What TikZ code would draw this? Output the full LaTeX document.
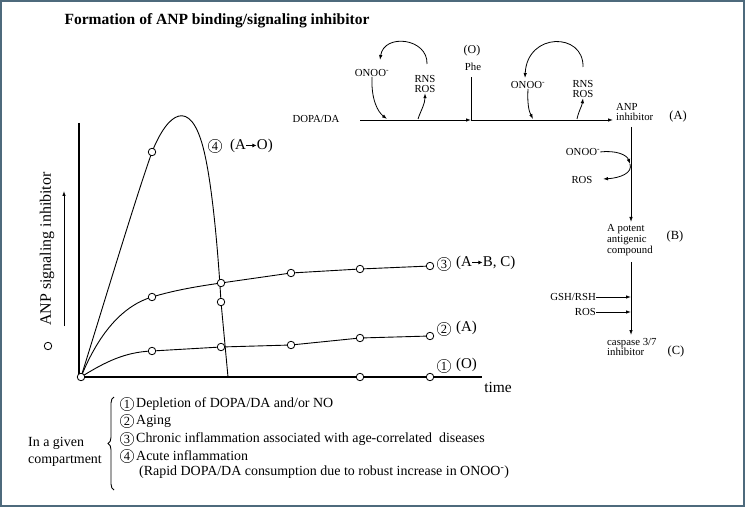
\documentclass[tikz,border=0pt]{standalone}
\usepackage{fontspec}
\setmainfont{Liberation Serif}
\usepackage{xcolor}
\usetikzlibrary{arrows.meta,decorations.pathreplacing}
\definecolor{vframe}{HTML}{4e6a7c}
\definecolor{vdarkgray}{HTML}{1a1a1a}

\newcommand{\smallarr}{\tikz[baseline=-0.6ex]\draw[line width=1bp,-{Latex[length=4bp,width=4bp]}] (0,0) -- (10bp,0);}

\begin{document}
\begin{tikzpicture}[x=1bp,y=-1bp,
		lbl/.style={inner sep=0pt, font=\fontsize{15}{17}\selectfont},
		sidelbl/.style={inner sep=0pt, font=\fontsize{12.5}{14}\selectfont},
		chem/.style={inner sep=0pt, align=center, font=\fontsize{10.8}{10.9}\selectfont},
		legtxt/.style={inner sep=0pt, anchor=west, font=\fontsize{14}{17.5}\selectfont},
		numc/.style={draw, circle, inner sep=0pt, minimum size=13.5bp, font=\fontsize{12.5}{12.5}\selectfont},
		datapt/.style={draw, circle, fill=white, inner sep=0pt, minimum size=7.5bp, line width=0.8bp},
		arr/.style={line width=0.8bp, -{Latex[length=5bp,width=3.5bp]}},
		ln/.style={line width=0.9bp}]
		\useasboundingbox (0,0) rectangle (745,507);
		\draw[vframe, line width=1.6bp] (0.8,0.8) rectangle (744.2,506.2);

		% title
		\node[font=\fontsize{15.6}{18}\selectfont\bfseries] (title) at (217,21) {Formation of ANP binding/signaling inhibitor};

		% axes
		\coordinate (o)	 at (81,377);
		\coordinate (ytop)	 at (79,123);
		\coordinate (xend)	 at (482,377);
		\draw[ln, line width=1.1bp] (ytop) -- (79,377) -- (xend);
		\node[font=\fontsize{15.5}{15.5}\selectfont] (time) at (498,387) {time};
		\node[rotate=90, font=\fontsize{16}{16}\selectfont] (ylab) at (47,249) {ANP signaling inhibitor};
		\coordinate (ya)	 at (64,326);
		\coordinate (yb)	 at (64,191);
		\draw[arr] (ya) -- (yb);

		% data points
		\coordinate (d41)	 at (152,152);
		\coordinate (d4t)	 at (203,147);
		\coordinate (d42)	 at (221,302);
		\coordinate (d4e)	 at (228,377);
		\coordinate (d31)	 at (152,297);
		\coordinate (d32)	 at (221,283);
		\coordinate (d33)	 at (291,273);
		\coordinate (d34)	 at (360,269);
		\coordinate (d35)	 at (430,266);
		\coordinate (d21)	 at (152,351);
		\coordinate (d22)	 at (221,347);
		\coordinate (d23)	 at (291,345);
		\coordinate (d24)	 at (360,338);
		\coordinate (d25)	 at (430,336);
		\coordinate (d11)	 at (360,377);
		\coordinate (d12)	 at (430,377);

		% curves
		\draw[ln] (o) .. controls (105,300) and (135,200) .. (d41) .. controls (168,112) and (190,98) .. (d4t) .. controls (212,181) and (218,250) .. (d42) -- (d4e);
		\draw[ln] (o) .. controls (100,330) and (125,305) .. (d31) .. controls (175,290) and (200,286) .. (d32) -- (d33) -- (d34) -- (d35);
		\draw[ln] (o) .. controls (105,362) and (125,352) .. (d21) -- (d22) -- (d23) -- (d24) -- (d25);
		\draw[line width=2bp] (d11) -- (d12);
		\foreach \p in {o,d41,d42,d31,d32,d33,d34,d35,d21,d22,d23,d24,d25,d11,d12}
			\node[datapt] at (\p) {};

		% curve labels
		\node[numc] (c4) at (215,146) {4};
		\node[lbl, anchor=west] (t4) at (230,146) {(A\smallarr O)};
		\node[numc] (c3) at (444,264) {3};
		\node[lbl, anchor=west] (t3) at (456,263) {(A\smallarr B, C)};
		\node[numc] (c2) at (444,329) {2};
		\node[lbl, anchor=west] (t2) at (456,328) {(A)};
		\node[numc] (c1) at (444,366) {1};
		\node[lbl, anchor=west] (t1) at (456,365) {(O)};
		\node[datapt] (key) at (48,346) {};

		% pathway
		\node[chem] (dopa) at (316,119) {DOPA/DA};
		\coordinate (m0)	 at (360,120);
		\coordinate (phe0)	 at (471,120);
		\coordinate (phe1)	 at (471,77);
		\coordinate (anp0)	 at (613,120);
		\draw[arr] (m0) -- (phe0);
		\draw[ln] (phe0) -- (phe1);
		\draw[arr] (phe0) -- (anp0);
		\node[font=\fontsize{12}{12}\selectfont, inner sep=0pt] (ozero) at (472,51) {(O)};
		\node[chem] (phe) at (473,67) {Phe};
		\node[chem, align=left, anchor=west] (anp) at (616,112) {ANP\\inhibitor};
		\node[sidelbl] (la) at (678,117) {(A)};

		\node[chem] (onoo1) at (372,73) {ONOO\textsuperscript{-}};
		\node[chem] (rns1) at (425,84) {RNS\\ROS};
		\coordinate (in1)	 at (387,119);
		\coordinate (out1)	 at (418,119);
		\coordinate (lp1s)	 at (427,64);
		\coordinate (lp1e)	 at (380,60);
		\draw[arr] (onoo1.south) .. controls (371,100) and (378,112) .. (in1);
		\draw[arr] (out1) .. controls (421,110) and (425,104) .. (rns1.south);
		\draw[arr] (lp1s) .. controls (428,38) and (384,33) .. (lp1e);

		\node[chem] (onoo2) at (528,85) {ONOO\textsuperscript{-}};
		\node[chem] (rns2) at (583,89) {RNS\\ROS};
		\coordinate (in2)	 at (533,119);
		\coordinate (out2)	 at (577,119);
		\coordinate (lp2s)	 at (583,67);
		\coordinate (lp2e)	 at (525,78);
		\draw[arr] (onoo2.south) .. controls (527,108) and (530,113) .. (in2);
		\draw[arr] (out2) .. controls (579,110) and (582,106) .. (rns2.south);
		\draw[arr] (lp2s) .. controls (584,32) and (527,32) .. (lp2e);

		% vertical chain
		\coordinate (v0)	 at (631,127);
		\coordinate (v1)	 at (631,222);
		\draw[arr] (v0) -- (v1);
		\node[chem] (onoo3) at (583,152) {ONOO\textsuperscript{-}};
		\node[chem] (ros3) at (582,180) {ROS};
		\coordinate (j3)	 at (630,164);
		\coordinate (r3)	 at (603,179);
		\draw[arr] (onoo3.east) .. controls (616,150) and (627,155) .. (j3);
		\draw[arr] (j3) .. controls (633,173) and (620,178) .. (r3);
		\node[chem, align=left, anchor=west] (comp) at (607,240) {A potent\\antigenic\\compound};
		\node[sidelbl] (lb) at (675,237) {(B)};
		\coordinate (v2)	 at (631,262);
		\coordinate (v3)	 at (631,335);
		\draw[arr] (v2) -- (v3);
		\node[chem, anchor=east] (gsh) at (596,297) {GSH/RSH};
		\node[chem, anchor=east] (ros4) at (596,312) {ROS};
		\draw[arr] (gsh.east) -- (gsh.east -| v2);
		\draw[arr] (ros4.east) -- (ros4.east -| v2);
		\node[chem, align=left, anchor=west] (casp) at (607,347) {caspase 3/7\\inhibitor};
		\node[sidelbl] (lc) at (676,352) {(C)};

		% legend
		\node[legtxt, align=left] (cmp) at (28,452) {In a given\\compartment};
		\draw[ln, decorate, decoration={brace, amplitude=6bp}] (114,490) -- (114,397);
		\node[numc] (k1) at (127,404) {1};
		\node[legtxt] (e1) at (136,404) {Depletion of DOPA/DA and/or NO};
		\node[numc] (k2) at (127,421) {2};
		\node[legtxt] (e2) at (136,421) {Aging};
		\node[numc] (k3) at (127,439) {3};
		\node[legtxt] (e3) at (136,439) {Chronic inflammation associated with age-correlated\ \ diseases};
		\node[numc] (k4) at (127,456) {4};
		\node[legtxt] (e4) at (136,456) {Acute inflammation};
		\node[legtxt] (e5) at (139,472) {(Rapid DOPA/DA consumption due to robust increase in ONOO\textsuperscript{-})};
	\end{tikzpicture}
\end{document}
